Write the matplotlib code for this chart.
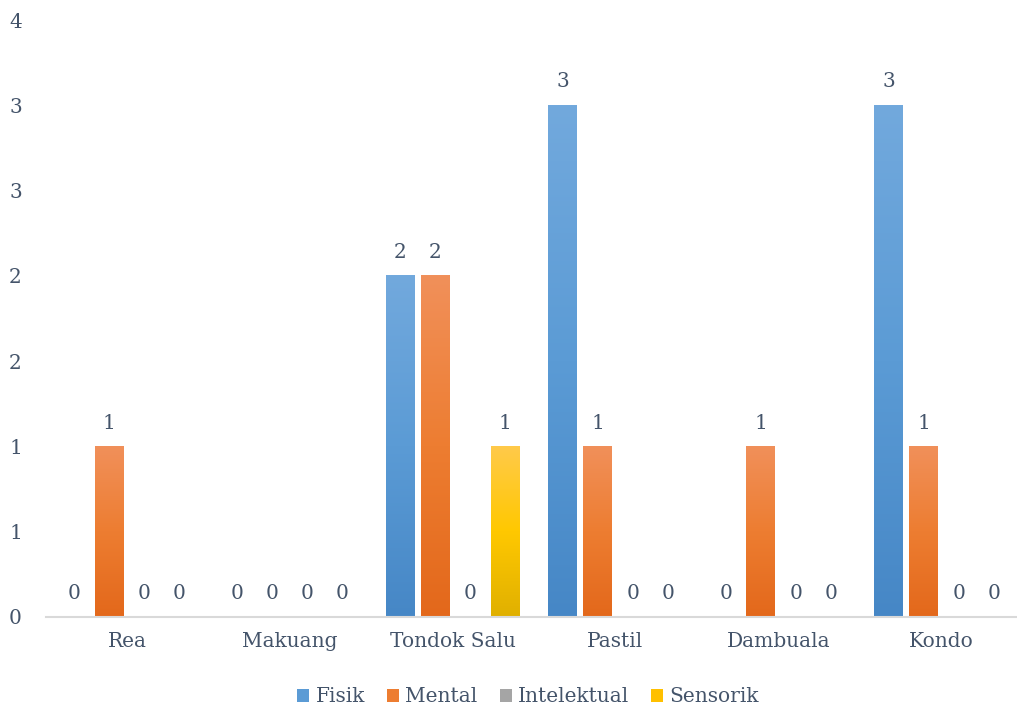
import matplotlib.pyplot as plt
import numpy as np
from matplotlib.patches import Patch
from matplotlib.colors import LinearSegmentedColormap

categories = ['Rea', 'Makuang', 'Tondok Salu', 'Pastil', 'Dambuala', 'Kondo']
series_names = ['Fisik', 'Mental', 'Intelektual', 'Sensorik']
fisik = [0, 0, 2, 3, 0, 3]
mental = [1, 0, 2, 1, 1, 1]
intelektual = [0, 0, 0, 0, 0, 0]
sensorik = [0, 0, 1, 0, 0, 0]
y_ticks = [0, 0.5, 1, 1.5, 2, 2.5, 3, 3.5]
y_tick_labels = ['0', '1', '1', '2', '2', '3', '3', '4']

# gradient stops, bottom -> top, like the Excel fill
gradients = [
    ['#4687c6', '#5b9bd5', '#72a9dd'],
    ['#e3681b', '#ed7d31', '#f1905a'],
    ['#8f8f8f', '#a5a5a5', '#b2b2b2'],
    ['#e0b000', '#ffc800', '#ffca4a'],
]
solid = ['#5b9bd5', '#ed7d31', '#a5a5a5', '#ffc000']
text_color = '#44546a'
fs = 14.5

plt.rcParams['font.family'] = ['DejaVu Serif']

fig = plt.figure(figsize=(10.17, 7.2), dpi=100)
ax = fig.add_axes([45.5 / 1017, 1 - 617 / 720, 977 / 1017, 597 / 720])

x = np.arange(len(categories))
step = 0.215
width = 0.178
all_series = [fisik, mental, intelektual, sensorik]

ax.set_xlim(-0.5, len(categories) - 0.5)
ax.set_ylim(0, 3.5)

for k, values in enumerate(all_series):
    pos = x + (k - 1.5) * step
    bars = ax.bar(pos, values, width=width, color='none', edgecolor='none')
    cmap = LinearSegmentedColormap.from_list('g%d' % k, gradients[k])
    grad = np.linspace(0, 1, 256).reshape(-1, 1)
    for b, v in zip(bars, values):
        if v > 0:
            x0 = b.get_x()
            ax.imshow(grad, cmap=cmap, origin='lower', aspect='auto',
                      extent=(x0, x0 + width, 0, v), zorder=2)
        ax.annotate(str(v), (b.get_x() + width / 2, v), xytext=(0, 10),
                    textcoords='offset points', ha='center', va='bottom',
                    fontsize=fs, color=text_color)

ax.set_xlim(-0.5, len(categories) - 0.5)
ax.set_ylim(0, 3.5)
ax.set_xticks(x)
ax.set_xticklabels(categories)
ax.set_yticks(y_ticks)
ax.set_yticklabels(y_tick_labels)
ax.tick_params(axis='both', length=0, labelsize=fs, colors=text_color)
ax.tick_params(axis='x', pad=11)
ax.tick_params(axis='y', pad=17)

for side in ['top', 'right', 'left']:
    ax.spines[side].set_visible(False)
ax.spines['bottom'].set_color('#d9d9d9')
ax.spines['bottom'].set_linewidth(1.5)

handles = [Patch(facecolor=solid[k], label=series_names[k]) for k in range(4)]
fig.legend(handles=handles, loc='center', bbox_to_anchor=(528 / 1017, 1 - 697 / 720),
           ncol=4, frameon=False, fontsize=fs, handlelength=0.6, handleheight=0.6,
           handletextpad=0.3, columnspacing=1.1, labelcolor=text_color)

fig.savefig('out.png', dpi=100)
